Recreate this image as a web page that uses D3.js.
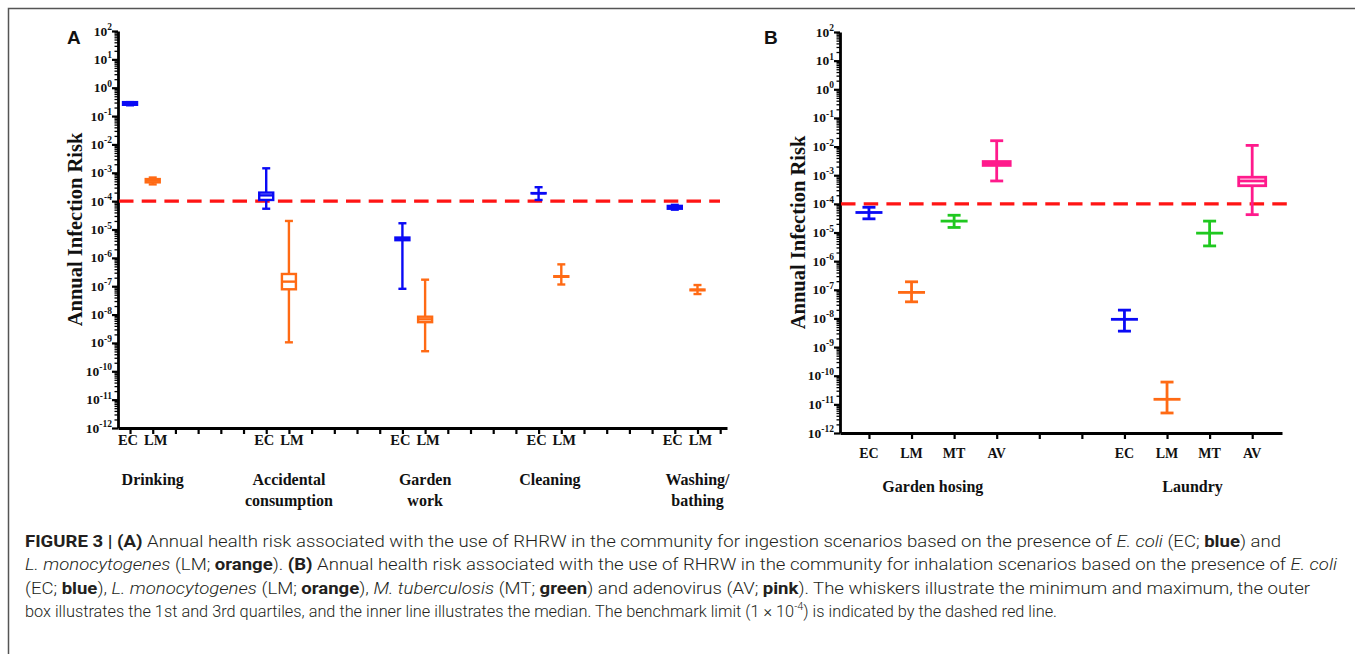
<!DOCTYPE html>
<html>
<head>
<meta charset="utf-8">
<script src="https://cdn.jsdelivr.net/npm/d3@7"></script>
<style>
body { margin: 0; background: #fff; }
svg { display: block; }
</style>
</head>
<body>
<svg id="chart" width="1355" height="654"></svg>
<script>
// ---- data ----
// each entry: [min, q1, median, q3, max]
var panelAGroups = [["Drinking"], ["Accidental", "consumption"], ["Garden", "work"], ["Cleaning"], ["Washing/", "bathing"]];
var panelAPathogens = ["EC", "LM"];
var panelAEC = [
	[0.24, 0.25, 0.28, 0.31, 0.31],
	[5.4e-5, 1.1e-4, 1.6e-4, 2.0e-4, 1.44e-3],
	[8.1e-8, 4.2e-6, 4.7e-6, 5.2e-6, 1.66e-5],
	[1.1e-4, 1.88e-4, 1.9e-4, 1.92e-4, 3.1e-4],
	[5.0e-5, 5.4e-5, 6.0e-5, 6.8e-5, 7.4e-5]
];
var panelALM = [
	[3.9e-4, 4.6e-4, 5.3e-4, 6.0e-4, 6.8e-4],
	[1.05e-9, 7.8e-8, 1.45e-7, 2.7e-7, 2.0e-5],
	[5.1e-10, 5.4e-9, 6.8e-9, 8.4e-9, 1.7e-7],
	[1.15e-7, 2.15e-7, 2.2e-7, 2.25e-7, 5.9e-7],
	[5.3e-8, 7.2e-8, 7.4e-8, 7.6e-8, 1.1e-7]
];

var panelBGroups = ["Garden hosing", "Laundry"];
var panelBPathogens = ["EC", "LM", "MT", "AV"];
var panelBEC = [[3.0e-5, 5.0e-5, 5.0e-5, 5.0e-5, 7.6e-5], [3.6e-9, 9.3e-9, 9.3e-9, 9.3e-9, 1.95e-8]];
var panelBLM = [[3.8e-8, 8.1e-8, 8.1e-8, 8.1e-8, 1.9e-7], [5.0e-12, 1.5e-11, 1.5e-11, 1.5e-11, 6.0e-11]];
var panelBMT = [[1.5e-5, 2.5e-5, 2.5e-5, 2.5e-5, 4.0e-5], [3.4e-6, 9.5e-6, 9.5e-6, 9.5e-6, 2.5e-5]];
var panelBAV = [[6.3e-4, 2.2e-3, 2.6e-3, 3.0e-3, 1.6e-2], [4.2e-5, 4.3e-4, 6.3e-4, 8.5e-4, 1.1e-2]];

var yExponents = [2, 1, 0, -1, -2, -3, -4, -5, -6, -7, -8, -9, -10, -11, -12];
var benchmark = 1e-4;

var colors = { EC: "#0a0af5", LM: "#ff6a14", MT: "#1fc81f", AV: "#ff1a8c" };

var svg = d3.select("#chart");

// figure frame
svg.append("rect")
	.attr("x", 8.5).attr("y", 8.5)
	.attr("width", 1400).attr("height", 700)
	.attr("fill", "none").attr("stroke", "#555").attr("stroke-width", 1.5);

function drawPanel(p){
	var g = svg.append("g");

	var x = d3.scaleLinear().domain(p.xDomain).range([p.left, p.right]);
	var y = d3.scaleLog().domain([1e-12, 1e2]).range([p.bottom, p.top]);

	// minor log ticks
	var minor = [];
	yExponents.forEach(function(e){
		if (e === 2) return;
		for (var k = 2; k <= 9; k++) minor.push(k * Math.pow(10, e));
	});

	g.append("g")
		.attr("transform", "translate(" + p.left + ",0)")
		.call(d3.axisLeft(y).tickValues(minor).tickSize(3.5).tickFormat("").tickSizeOuter(0))
		.call(function(a){
			a.select(".domain").remove();
			a.selectAll("line").attr("stroke", "#000").attr("stroke-width", 1.3);
		});

	var yAxis = g.append("g")
		.attr("transform", "translate(" + p.left + ",0)")
		.call(d3.axisLeft(y)
			.tickValues(yExponents.map(function(e){ return Math.pow(10, e); }))
			.tickSize(6).tickSizeOuter(0).tickFormat(""));
	yAxis.select(".domain").attr("stroke", "#000").attr("stroke-width", 2.8);
	yAxis.selectAll("line").attr("stroke", "#000").attr("stroke-width", 2.2);

	// tick labels 10^e
	var labels = g.append("g")
		.attr("font-family", "'Liberation Serif', 'Times New Roman', serif")
		.attr("font-weight", "bold")
		.attr("fill", "#111");
	yExponents.forEach(function(e){
		var t = labels.append("text")
			.attr("x", p.left - 6)
			.attr("y", y(Math.pow(10, e)) + 4.5)
			.attr("text-anchor", "end")
			.attr("font-size", 13.5);
		t.append("tspan").text("10");
		t.append("tspan").attr("dy", -5.5).attr("font-size", 9.5).text(e);
	});

	// x axis
	var xAxis = g.append("g")
		.attr("transform", "translate(0," + p.bottom + ")")
		.call(d3.axisBottom(x).tickValues(d3.range(0, p.nTicks)).tickSize(6).tickSizeOuter(0).tickFormat(""));
	xAxis.select(".domain").attr("stroke", "#000").attr("stroke-width", 2.8);
	xAxis.selectAll("line").attr("stroke", "#000").attr("stroke-width", 2.2);

	// y label
	g.append("text")
		.attr("transform", "translate(" + p.yLabelX + "," + ((p.top + p.bottom) / 2) + ") rotate(-90)")
		.attr("text-anchor", "middle")
		.attr("font-family", "'Liberation Serif', 'Times New Roman', serif")
		.attr("font-weight", "bold")
		.attr("font-size", 20.5)
		.attr("fill", "#111")
		.text("Annual Infection Risk");

	// panel letter
	g.append("text")
		.attr("x", p.letterX).attr("y", 44)
		.attr("font-family", "'Liberation Sans', Arial, sans-serif")
		.attr("font-weight", "bold")
		.attr("font-size", 19)
		.attr("fill", "#111")
		.text(p.letter);

	// pathogen tick labels and group labels
	var xl = g.append("g")
		.attr("font-family", "'Liberation Serif', 'Times New Roman', serif")
		.attr("font-weight", "bold")
		.attr("fill", "#111")
		.attr("text-anchor", "middle");
	p.groups.forEach(function(grp, gi){
		p.pathogens.forEach(function(name, pi){
			xl.append("text")
				.attr("x", x(gi * p.step + pi))
				.attr("dx", p.pathogens.length === 2 ? (pi === 0 ? -2 : 3) : 0)
				.attr("y", p.tickLabelY)
				.attr("font-size", p.tickLabelSize)
				.text(name);
		});
		var lines = Array.isArray(grp) ? grp : [grp];
		var t = xl.append("text")
			.attr("x", x(p.groupPos[gi]))
			.attr("y", p.groupLabelY)
			.attr("font-size", p.groupLabelSize);
		lines.forEach(function(s, li){
			t.append("tspan").attr("x", x(p.groupPos[gi])).attr("dy", li === 0 ? 0 : 21).text(s);
		});
	});

	// benchmark line
	g.append("line")
		.attr("x1", p.left + 1).attr("x2", p.dashEnd)
		.attr("y1", y(benchmark)).attr("y2", y(benchmark))
		.attr("stroke", "#ff1414").attr("stroke-width", 3.2)
		.attr("stroke-dasharray", "14.5,8.2");

	// box plots
	var boxes = [];
	p.pathogens.forEach(function(name, pi){
		p.stats[name].forEach(function(s, gi){
			boxes.push({ name: name, idx: gi * p.step + pi, s: s });
		});
	});

	var b = g.selectAll(".box").data(boxes).enter().append("g")
		.attr("class", "box")
		.attr("stroke", function(d){ return colors[d.name]; })
		.attr("stroke-width", p.sw)
		.attr("fill", "#fff");

	b.append("line")
		.attr("x1", function(d){ return x(d.idx); })
		.attr("x2", function(d){ return x(d.idx); })
		.attr("y1", function(d){ return y(d.s[4]); })
		.attr("y2", function(d){ return y(d.s[0]); });
	[0, 4].forEach(function(k){
		b.append("line")
			.attr("x1", function(d){ return x(d.idx) - p.capW / 2; })
			.attr("x2", function(d){ return x(d.idx) + p.capW / 2; })
			.attr("y1", function(d){ return y(d.s[k]); })
			.attr("y2", function(d){ return y(d.s[k]); });
	});
	b.append("rect")
		.attr("x", function(d){ return x(d.idx) - p.boxW / 2; })
		.attr("width", p.boxW)
		.attr("y", function(d){ return y(d.s[3]); })
		.attr("height", function(d){ return y(d.s[1]) - y(d.s[3]); });
	b.append("line")
		.attr("x1", function(d){ return x(d.idx) - p.boxW / 2; })
		.attr("x2", function(d){ return x(d.idx) + p.boxW / 2; })
		.attr("y1", function(d){ return y(d.s[2]); })
		.attr("y2", function(d){ return y(d.s[2]); });
}

drawPanel({
	letter: "A", letterX: 67,
	left: 118, right: 727, top: 31, bottom: 428,
	xDomain: [-0.53, 26.3], nTicks: 27, step: 6,
	groups: panelAGroups, pathogens: panelAPathogens,
	groupPos: [1, 7, 13, 18.5, 25],
	stats: { EC: panelAEC, LM: panelALM },
	yLabelX: 82, tickLabelY: 445, tickLabelSize: 14.5,
	groupLabelY: 485, groupLabelSize: 16,
	dashEnd: 720, boxW: 14, capW: 8, sw: 2.4
});

drawPanel({
	letter: "B", letterX: 764,
	left: 840, right: 1282, top: 32, bottom: 433,
	xDomain: [-0.68, 9.7], nTicks: 10, step: 6,
	groups: panelBGroups, pathogens: panelBPathogens,
	groupPos: [1.5, 7.6],
	stats: { EC: panelBEC, LM: panelBLM, MT: panelBMT, AV: panelBAV },
	yLabelX: 805, tickLabelY: 458, tickLabelSize: 14,
	groupLabelY: 492, groupLabelSize: 16,
	dashEnd: 1292, boxW: 27, capW: 13, sw: 2.8
});

// caption
var caption = svg.append("g")
	.attr("font-family", "Roboto, 'Liberation Sans', sans-serif")
	.attr("font-weight", 300)
	.attr("font-size", 16.5)
	.attr("fill", "#231f20");

var captionLines = [
	{ w: 1256, parts: [["FIGURE 3 | (A)", "b"], [" Annual health risk associated with the use of RHRW in the community for ingestion scenarios based on the presence of "], ["E. coli", "i"], [" (EC; "], ["blue", "b"], [") and"]] },
	{ w: 1312, parts: [["L. monocytogenes", "i"], [" (LM; "], ["orange", "b"], ["). "], ["(B)", "b"], [" Annual health risk associated with the use of RHRW in the community for inhalation scenarios based on the presence of "], ["E. coli", "i"]] },
	{ w: 1285, parts: [["(EC; "], ["blue", "b"], ["), "], ["L. monocytogenes", "i"], [" (LM; "], ["orange", "b"], ["), "], ["M. tuberculosis", "i"], [" (MT; "], ["green", "b"], [") and adenovirus (AV; "], ["pink", "b"], ["). The whiskers illustrate the minimum and maximum, the outer"]] },
	{ w: 1032, parts: [["box illustrates the 1st and 3rd quartiles, and the inner line illustrates the median. The benchmark limit (1 \u00d7 10"], ["-4", "sup"], [") is indicated by the dashed red line.", "after"]] }
];

captionLines.forEach(function(line, i){
	var t = caption.append("text")
		.attr("x", 25)
		.attr("y", 547 + i * 23.3)
		.attr("textLength", line.w)
		.attr("lengthAdjust", "spacingAndGlyphs");
	line.parts.forEach(function(part){
		var ts = t.append("tspan").text(part[0]);
		if (part[1] === "b") ts.attr("font-weight", "bold");
		if (part[1] === "i") ts.attr("font-style", "italic");
		if (part[1] === "sup") ts.attr("font-size", 11).attr("dy", -7);
		if (part[1] === "after") ts.attr("dy", 7);
	});
});
</script>
</body>
</html>
